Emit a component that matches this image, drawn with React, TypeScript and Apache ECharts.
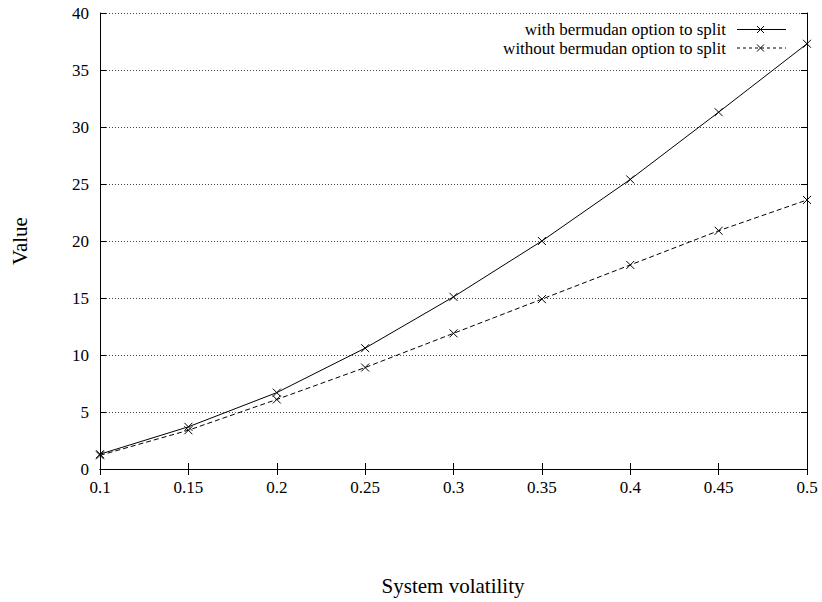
import React, { useEffect, useRef } from "react";
import * as echarts from "echarts";

const xValues = [0.1, 0.15, 0.2, 0.25, 0.3, 0.35, 0.4, 0.45, 0.5];
const withSplit = [1.3, 3.7, 6.7, 10.6, 15.1, 20.0, 25.4, 31.3, 37.3];
const withoutSplit = [1.2, 3.4, 6.1, 8.9, 11.9, 14.9, 17.9, 20.9, 23.6];
const seriesNames = ["with bermudan option to split", "without bermudan option to split"];

const FONT = "'Liberation Serif', 'Times New Roman', serif";
const CROSS = "path://M0,0L10,10M10,0L0,10";
const FS = 17;
const TITLE_FS = 21;

export default function App() {
  const ref = useRef<HTMLDivElement>(null);
  useEffect(() => {
    if (!ref.current) return;
    const chart = echarts.init(ref.current, undefined, { renderer: "svg" });
    const fmt = (v: number) => String(+v.toFixed(2));
    const axisLine = { show: true, lineStyle: { color: "#000", width: 1 } };
    const axisTick = { show: true, inside: true, length: 6, lineStyle: { color: "#000", width: 1 } };
    const mk = (name: string, data: number[], dashed: boolean) => ({
      name,
      type: "line",
      data: xValues.map((x, i) => [x, data[i]]),
      symbol: CROSS,
      symbolSize: 8,
      showSymbol: true,
      lineStyle: { color: "#000", width: 1, type: dashed ? [5, 3] : "solid" },
      itemStyle: { color: "#000", borderColor: "#000", borderWidth: 1 },
      emphasis: { disabled: true },
    });
    const legendRow = (name: string, y: number, dashed: boolean) => [
      {
        type: "text",
        x: 726,
        y,
        style: { text: name, font: `${FS}px ${FONT}`, fill: "#000", align: "right", verticalAlign: "middle" },
      },
      {
        type: "line",
        shape: { x1: 737, y1: y, x2: 786, y2: y },
        style: { stroke: "#000", lineWidth: 1, lineDash: dashed ? [3, 3] : null },
      },
      {
        type: "line",
        shape: { x1: 757, y1: y - 3.5, x2: 764, y2: y + 3.5 },
        style: { stroke: "#000", lineWidth: 1 },
      },
      {
        type: "line",
        shape: { x1: 757, y1: y + 3.5, x2: 764, y2: y - 3.5 },
        style: { stroke: "#000", lineWidth: 1 },
      },
    ];
    chart.setOption({
      animation: false,
      backgroundColor: "#fff",
      textStyle: { fontFamily: FONT, color: "#000" },
      grid: { left: 100, top: 13, right: 15, bottom: 133, containLabel: false },
      xAxis: [
        {
          type: "value",
          min: 0.1,
          max: 0.5,
          interval: 0.05,
          position: "bottom",
          axisLine,
          axisTick,
          splitLine: { show: false },
          axisLabel: { formatter: fmt, fontFamily: FONT, fontSize: FS, color: "#000", margin: 10 },
        },
        {
          type: "value",
          min: 0.1,
          max: 0.5,
          interval: 0.05,
          position: "top",
          axisLine,
          axisTick,
          splitLine: { show: false },
          axisLabel: { show: false },
        },
      ],
      yAxis: [
        {
          type: "value",
          min: 0,
          max: 40,
          interval: 5,
          position: "left",
          axisLine,
          axisTick,
          splitLine: { show: true, lineStyle: { color: "#444", width: 1, type: [1, 2] } },
          axisLabel: { fontFamily: FONT, fontSize: FS, color: "#000", margin: 11 },
        },
        {
          type: "value",
          min: 0,
          max: 40,
          interval: 5,
          position: "right",
          axisLine,
          axisTick,
          splitLine: { show: false },
          axisLabel: { show: false },
        },
      ],
      graphic: [
        {
          type: "text",
          x: 20,
          y: 241,
          rotation: Math.PI / 2,
          style: { text: "Value", font: `${TITLE_FS}px ${FONT}`, fill: "#000", align: "center", verticalAlign: "middle" },
        },
        {
          type: "text",
          x: 453,
          y: 586,
          style: { text: "System volatility", font: `${TITLE_FS}px ${FONT}`, fill: "#000", align: "center", verticalAlign: "middle" },
        },
        ...legendRow(seriesNames[0], 29.5, false),
        ...legendRow(seriesNames[1], 48, true),
      ],
      series: [mk(seriesNames[0], withSplit, false), mk(seriesNames[1], withoutSplit, true)],
    });
    return () => chart.dispose();
  }, []);
  return <div ref={ref} style={{ width: 822, height: 602, position: "absolute", left: 0, top: 0 }} />;
}
